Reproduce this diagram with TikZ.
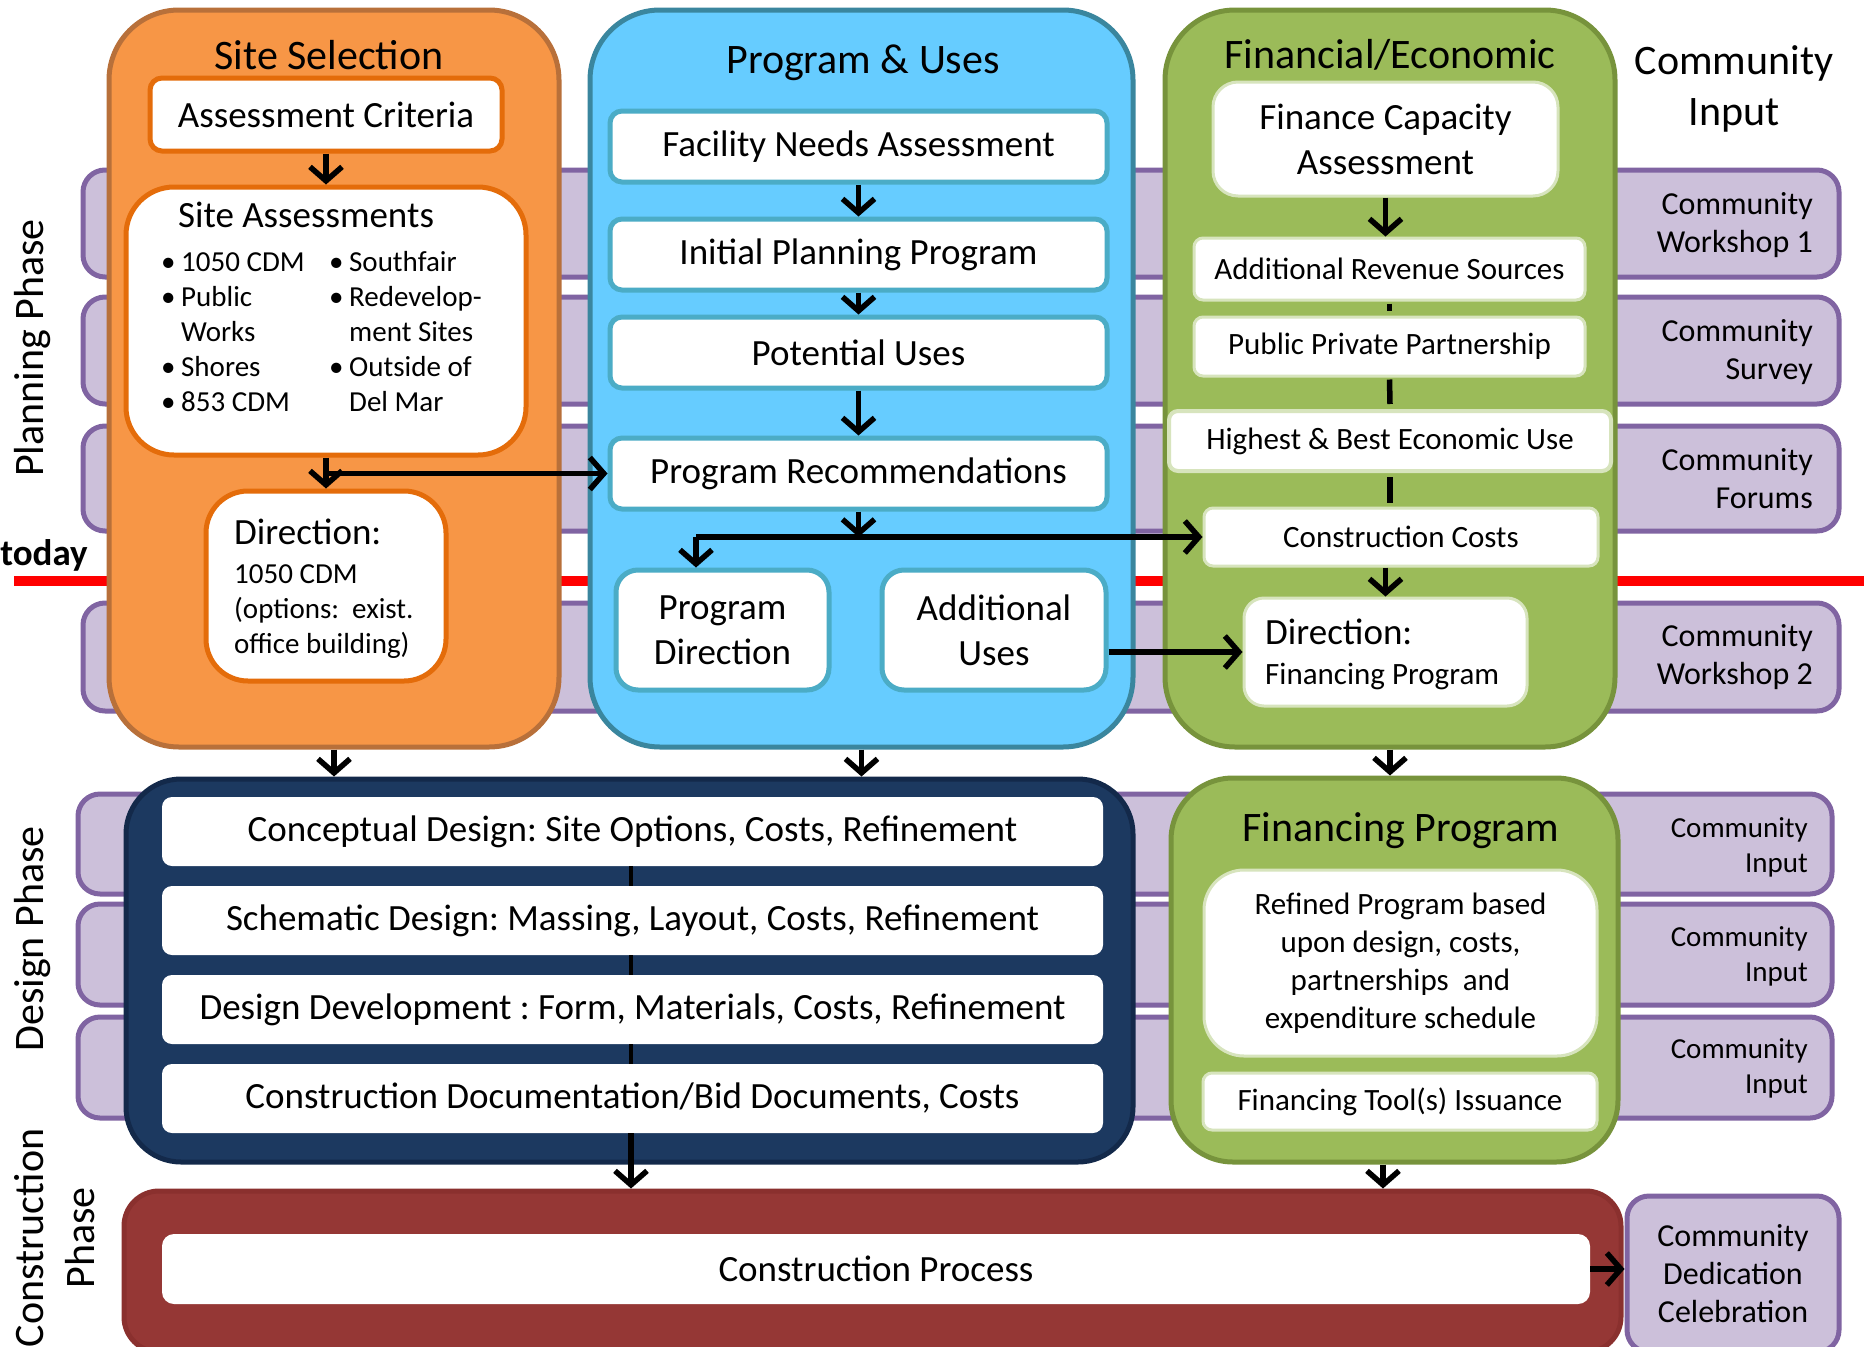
\documentclass[tikz,border=0pt]{standalone}
\usepackage{fontspec}
\setmainfont{Carlito}
\usetikzlibrary{arrows.meta,calc}
\definecolor{orfill}{HTML}{F79646}
\definecolor{ordraw}{HTML}{B8703A}
\definecolor{orin}{HTML}{E46C0A}
\definecolor{blfill}{HTML}{66CCFF}
\definecolor{bldraw}{HTML}{3A869E}
\definecolor{blin}{HTML}{4BACC6}
\definecolor{grfill}{HTML}{9BBB59}
\definecolor{grdraw}{HTML}{77933C}
\definecolor{grin}{HTML}{D7E4BD}
\definecolor{pufill}{HTML}{CCC0DA}
\definecolor{pudraw}{HTML}{8064A2}
\definecolor{nvfill}{HTML}{1C3960}
\definecolor{nvdraw}{HTML}{13294A}
\definecolor{rdfill}{HTML}{953735}
\definecolor{rddraw}{HTML}{8A302E}
\newcommand\szT{\fontsize{42}{51}\selectfont}
\newcommand\szM{\fontsize{37}{45}\selectfont}
\newcommand\szS{\fontsize{31}{38}\selectfont}
\newcommand\szC{\fontsize{32}{38}\selectfont}
\newcommand\szX{\fontsize{29}{35}\selectfont}
\begin{document}
\frenchspacing
\begin{tikzpicture}[x=1pt,y=-1pt,
  bx/.style={rectangle, inner sep=0pt, align=center, text=black},
  purplebar/.style={bx, fill=pufill, draw=pudraw, line width=5pt, rounded corners=22pt},
  container/.style={bx, line width=5pt, rounded corners=70pt},
  wbox/.style={bx, fill=white, rounded corners=12pt},
  orbox/.style={wbox, draw=orin, line width=5pt},
  blbox/.style={wbox, draw=blin, line width=5pt},
  grbox/.style={wbox, draw=grin, line width=3pt},
  arr/.style={line width=5.5pt, -{Straight Barb[length=14pt,width=32pt,line width=5.5pt]}},
  link/.style={line width=5.5pt}
]
\useasboundingbox (0,0) rectangle (1864,1347);
\clip (0,0) rectangle (1864,1347);

% purple community bars
\node[purplebar, minimum width=1756, minimum height=107] (p1) at (961,223.5) {};
\node[purplebar, minimum width=1756, minimum height=107] (p2) at (961,350.5) {};
\node[purplebar, minimum width=1756, minimum height=105] (p3) at (961,478.5) {};
\node[purplebar, minimum width=1756, minimum height=108] (p4) at (961,657) {};
\node[purplebar, minimum width=1754, minimum height=100] (q1) at (955,844) {};
\node[purplebar, minimum width=1754, minimum height=101] (q2) at (955,954.5) {};
\node[purplebar, minimum width=1754, minimum height=101] (q3) at (955,1067.5) {};
\node[purplebar, minimum width=212, minimum height=156, font=\szC] (ded) at (1733,1274) {Community\\Dedication\\Celebration};

\node[bx, anchor=east, align=right, font=\szC] (t1) at (1813,225) {Community\\Workshop 1};
\node[bx, anchor=east, align=right, font=\szC] (t2) at (1813,352) {Community\\Survey};
\node[bx, anchor=east, align=right, font=\szC] (t3) at (1813,479) {Community\\Forums};
\node[bx, anchor=east, align=right, font=\szC] (t4) at (1813,657) {Community\\Workshop 2};
\node[bx, anchor=east, align=right, font=\szX] (u1) at (1808,847) {Community\\Input};
\node[bx, anchor=east, align=right, font=\szX] (u2) at (1808,956) {Community\\Input};
\node[bx, anchor=east, align=right, font=\szX] (u3) at (1808,1068) {Community\\Input};

% today line
\draw[red, line width=10pt] (14,581) -- (1864,581);
\node[bx, font=\szM\bfseries] (today) at (44,555) {today};

% phase labels
\node[bx, rotate=90, font=\szT] (plan) at (33,348) {Planning Phase};
\node[bx, rotate=90, font=\szT] (desph) at (33,939) {Design Phase};
\node[bx, rotate=90, font=\szT] (consph) at (55,1238) {Construction\\Phase};
\node[bx, font=\szT] (ci) at (1734,89) {Community\\Input};

% containers
\node[container, fill=orfill, draw=ordraw, minimum width=450, minimum height=737] (ss) at (334,378.5) {};
\node[container, fill=blfill, draw=bldraw, minimum width=543, minimum height=737] (pu) at (861.5,378.5) {};
\node[container, fill=grfill, draw=grdraw, minimum width=450, minimum height=737] (fe) at (1390,378.5) {};
\node[container, fill=nvfill, draw=nvdraw, rounded corners=55pt, minimum width=1007, minimum height=383] (des) at (629.5,970.5) {};
\node[container, fill=grfill, draw=grdraw, rounded corners=62pt, minimum width=447, minimum height=384] (fp) at (1394.5,970) {};
\node[container, fill=rdfill, draw=rddraw, rounded corners=35pt, minimum width=1497, minimum height=161] (cons) at (872.5,1271.5) {};

% titles
\node[bx, font=\szT] (sst) at (329,55) {Site Selection};
\node[bx, font=\szT] (put) at (863,63) {Program \& Uses};
\node[bx, font=\szT] (fet) at (1390,55) {Financial/Economic};
\node[bx, font=\szT] (fpt) at (1401,831) {Financing Program};

% Site selection column
\node[orbox, minimum width=352, minimum height=73, font=\szM] (ac) at (326,114.5) {Assessment Criteria};
\node[orbox, rounded corners=48pt, minimum width=400, minimum height=268] (sa) at (326,321) {};
\node[bx, font=\szM] (sat) at (306,215) {Site Assessments};
\node[bx, anchor=west, font=\szX] (sal) at (161,334) {%
\begin{tabular}{@{}p{20pt}@{}p{148pt}@{}p{20pt}@{}l@{}}
\textbullet & 1050 CDM & \textbullet & Southfair\\
\textbullet & Public & \textbullet & Redevelop-\\
 & Works & & ment Sites\\
\textbullet & Shores & \textbullet & Outside of\\
\textbullet & 853 CDM & & Del Mar
\end{tabular}};
\node[orbox, rounded corners=42pt, minimum width=240, minimum height=190] (dir) at (326,586) {};
\node[bx, anchor=west, align=left, font=\szX] (dirt) at (234,589)
  {{\szM Direction:}\\[4pt]1050 CDM\\(options:\ \ exist.\\office building)};

% Program & uses column
\node[blbox, minimum width=497, minimum height=71, font=\szM] (fna) at (858.5,146.5) {Facility Needs Assessment};
\node[blbox, minimum width=497, minimum height=71, font=\szM] (ipp) at (858.5,254.5) {Initial Planning Program};
\node[blbox, minimum width=497, minimum height=71, font=\szM] (pot) at (858.5,352.5) {Potential Uses};
\node[blbox, minimum width=497, minimum height=71, font=\szM] (prec) at (858.5,473.5) {Program Recommendations};
\node[blbox, rounded corners=22pt, minimum width=213, minimum height=120, font=\szM] (pd) at (722.5,630) {Program\\Direction};
\node[blbox, rounded corners=22pt, minimum width=224, minimum height=120, font=\szM] (au) at (994,630) {Additional\\Uses};

% Financial column
\node[grbox, rounded corners=25pt, minimum width=345, minimum height=114, font=\szM] (fca) at (1385.5,139) {Finance Capacity\\Assessment};
\node[grbox, rounded corners=9pt, minimum width=391, minimum height=62, font=\szS] (ars) at (1389.5,269) {Additional Revenue Sources};
\node[grbox, rounded corners=9pt, minimum width=391, minimum height=59, font=\szS] (ppp) at (1389.5,346.5) {Public Private Partnership};
\node[wbox, draw=grin, line width=4pt, rounded corners=9pt, minimum width=442, minimum height=60, font=\szS] (hbe) at (1390,441) {Highest \& Best Economic Use};
\node[grbox, rounded corners=9pt, minimum width=394, minimum height=58, font=\szS] (cc) at (1401,537) {Construction Costs};
\node[grbox, rounded corners=20pt, minimum width=283, minimum height=108] (fdir) at (1385.5,652) {};
\node[bx, anchor=west, align=left, font=\szS] (fdirt) at (1265,654)
  {{\szM Direction:}\\[2pt]Financing Program};

% Design
\node[wbox, rounded corners=10pt, minimum width=941, minimum height=69, font=\szM] (cd1) at (632.5,831.5) {Conceptual Design: Site Options, Costs, Refinement};
\node[wbox, rounded corners=10pt, minimum width=941, minimum height=69, font=\szM] (cd2) at (632.5,920.5) {Schematic Design: Massing, Layout, Costs, Refinement};
\node[wbox, rounded corners=10pt, minimum width=941, minimum height=69, font=\szM] (cd3) at (632.5,1009.5) {Design Development : Form, Materials, Costs, Refinement};
\node[wbox, rounded corners=10pt, minimum width=941, minimum height=69, font=\szM] (cd4) at (632.5,1098.5) {Construction Documentation/Bid Documents, Costs};

% Financing program
\node[grbox, rounded corners=40pt, minimum width=393, minimum height=186, font=\szS] (ref) at (1400.5,963) {Refined Program based\\upon design, costs,\\partnerships \ and\\expenditure schedule};
\node[grbox, rounded corners=9pt, minimum width=394, minimum height=57, font=\szS] (fti) at (1400,1101.5) {Financing Tool(s) Issuance};

% Construction
\node[wbox, rounded corners=12pt, minimum width=1428, minimum height=70, font=\szM] (cp) at (876,1269) {Construction Process};

% connectors
\coordinate (jn) at (696,537);
\coordinate (dx) at (631,0);
\coordinate (fx) at (1383,0);
\draw[arr] (ac.south) -- (sa.north);
\draw[arr] (sa.south) -- (dir.north);
\draw[arr] (sa.south |- prec.west) -- (prec.west);
\draw[arr] (fna.south) -- (ipp.north);
\draw[arr] (ipp.south) -- (pot.north);
\draw[arr] (pot.south) -- (prec.north);
\draw[arr] (prec.south) -- (prec.south |- cc.west);
\draw[arr] (jn) -- (cc.west);
\draw[arr] (jn) -- (jn |- pd.north);
\draw[arr] (au.east |- fdir.west) -- (fdir.west);
\draw[arr] (fca.south) -- (fca.south |- ars.north);
\draw[link] ($(ars.south)+(0,2)$) -- ($(ppp.north)+(0,-5)$);
\draw[link] ($(ppp.south)+(0,2)$) -- ($(hbe.north)+(0,-5)$);
\draw[link] ($(hbe.south)+(0,4)$) -- ($(hbe.south |- cc.north)+(0,-4)$);
\draw[arr] (cc.south -| fdir.north) -- (fdir.north);
\draw[arr] (ss.south) -- (ss.south |- des.north);
\draw[arr] (pu.south) -- (pu.south |- des.north);
\draw[arr] (fe.south) -- (fe.south |- fp.north);
\draw[line width=3.5pt] (cd1.south -| dx) -- (cd2.north -| dx);
\draw[line width=3.5pt] (cd2.south -| dx) -- (cd3.north -| dx);
\draw[line width=3.5pt] (cd3.south -| dx) -- (cd4.north -| dx);
\draw[arr] (cd4.south -| dx) -- (cons.north -| dx);
\draw[arr] (fp.south -| fx) -- (cons.north -| fx);
\draw[arr] (cp.east) -- (cp.east -| ded.west);
\end{tikzpicture}
\end{document}
